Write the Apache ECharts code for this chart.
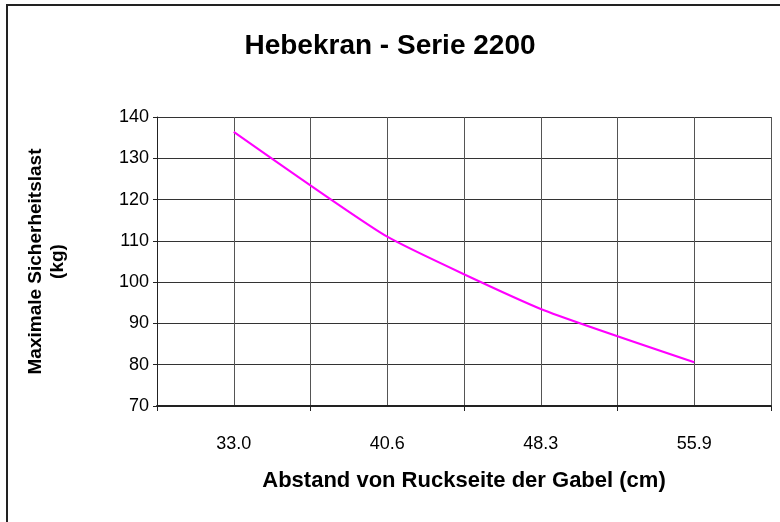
<!DOCTYPE html>
<html>
<head>
<meta charset="utf-8">
<script src="https://cdn.jsdelivr.net/npm/echarts@6/dist/echarts.min.js"></script>
<style>
  html, body { margin: 0; padding: 0; background: #fff; }
  #main { width: 780px; height: 522px; }
</style>
</head>
<body>
<div id="main"></div>
<script>
// Abstand (cm) und max. Last (kg)
var categories = ['33.0', '40.6', '48.3', '55.9'];
var lastKg = [136.4, 111.0, 93.5, 80.6];
var yTicks = { min: 70, max: 140, step: 10 };

var font = '"Liberation Sans", Arial, sans-serif';
var chart = echarts.init(document.getElementById('main'), null, { renderer: 'canvas' });

var option = {
  backgroundColor: '#fff',
  animation: false,
  title: {
    text: 'Hebekran - Serie 2200',
    left: 'center',
    top: 32,
    padding: [0, 0, 0, 20],
    textStyle: { fontFamily: font, fontSize: 28, fontWeight: 'bold', color: '#000' }
  },
  graphic: [{
    type: 'rect',
    shape: { x: 7, y: 5, width: 800, height: 600 },
    style: { fill: 'none', stroke: '#222', lineWidth: 2 },
    silent: true
  }],
  grid: { left: 157, right: 9, top: 117, bottom: 116, containLabel: false },
  xAxis: [
    {
      type: 'category',
      data: categories,
      boundaryGap: true,
      axisLine: { lineStyle: { color: '#222', width: 2 } },
      axisTick: { show: true, length: 5, lineStyle: { color: '#222' } },
      axisLabel: { fontFamily: font, fontSize: 18, color: '#000', margin: 29 },
      splitLine: { show: false },
      name: 'Abstand von Ruckseite der Gabel (cm)',
      nameLocation: 'middle',
      nameGap: 64,
      nameTextStyle: { fontFamily: font, fontSize: 22, fontWeight: 'bold', color: '#000' }
    },
    {
      // nur für die Gitterlinien (halbe Kategorien)
      type: 'value',
      min: 0,
      max: categories.length * 2,
      interval: 1,
      position: 'bottom',
      axisLine: { show: false },
      axisTick: { show: false },
      axisLabel: { show: false },
      splitLine: { show: true, lineStyle: { color: '#555', width: 1 } }
    }
  ],
  yAxis: {
    type: 'value',
    min: yTicks.min,
    max: yTicks.max,
    interval: yTicks.step,
    axisLine: { show: true, lineStyle: { color: '#222', width: 1 } },
    axisTick: { show: true, length: 4, lineStyle: { color: '#222' } },
    axisLabel: { fontFamily: font, fontSize: 18, color: '#000', margin: 8 },
    splitLine: { show: true, lineStyle: { color: '#333', width: 1 } },
    name: 'Maximale Sicherheitslast\n(kg)',
    nameLocation: 'middle',
    nameRotate: 90,
    nameGap: 88,
    nameTextStyle: { fontFamily: font, fontSize: 19, fontWeight: 'bold', color: '#000', lineHeight: 22, align: 'center' }
  },
  series: [{
    type: 'line',
    xAxisIndex: 0,
    data: lastKg,
    smooth: 0.15,
    symbol: 'none',
    lineStyle: { color: '#ff00ff', width: 2 },
    itemStyle: { color: '#ff00ff' }
  }]
};
chart.setOption(option);
</script>
</body>
</html>
